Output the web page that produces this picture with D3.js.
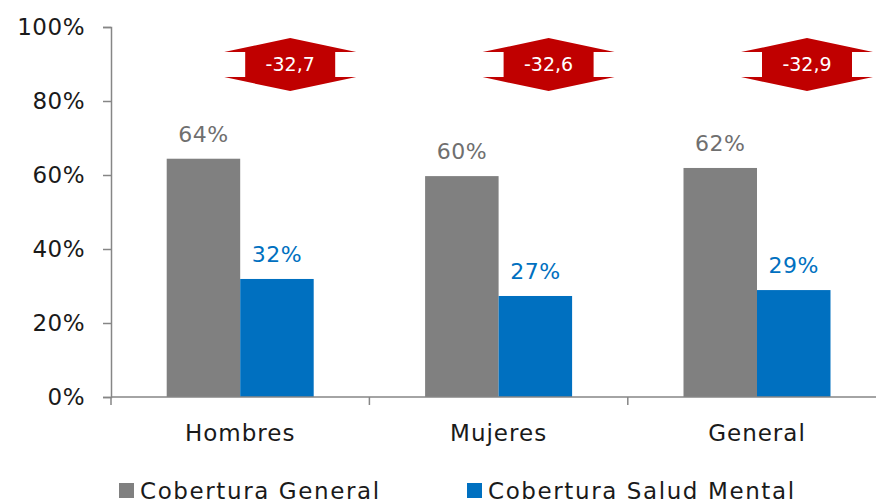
<!DOCTYPE html>
<meta charset="utf-8">
<script src="https://d3js.org/d3.v7.min.js"></script>
<style>
  body { margin: 0; background: #fff; }
  text { font-family: "DejaVu Sans", sans-serif; }
</style>
<div id="chart"></div>
<script>
  // data
  var categories = ["Hombres", "Mujeres", "General"];
  var seriesNames = ["Cobertura General", "Cobertura Salud Mental"];
  var generalVals = [64.4, 59.7, 61.9];
  var mentalVals = [31.9, 27.3, 28.9];
  var gapVals = [-32.7, -32.6, -32.9];
  var yTicks = [0, 20, 40, 60, 80, 100];

  var colors = ["#808080", "#0070c0"];
  var labelColors = ["#6f6f6f", "#0070c0"];

  var width = 876, height = 502;
  var margin = {top: 27, left: 111, bottom: 105};

  var svg = d3.select("#chart")
    .append("svg")
      .attr("width", width)
      .attr("height", height);

  var x = d3.scaleBand()
    .domain(categories)
    .range([margin.left, margin.left + 3 * 258.4]);

  var y = d3.scaleLinear()
    .domain([0, 100])
    .range([height - margin.bottom, margin.top]);

  var barW = 73.5;
  var series = [generalVals, mentalVals];

  // bars
  series.forEach(function(vals, s) {
    svg.append("g")
      .selectAll("rect")
      .data(vals)
      .enter().append("rect")
        .attr("x", function(d, i) { return x(categories[i]) + x.bandwidth() / 2 - barW + s * barW; })
        .attr("y", function(d) { return y(d); })
        .attr("width", barW)
        .attr("height", function(d) { return y(0) - y(d); })
        .attr("fill", colors[s]);

    svg.append("g")
      .selectAll("text")
      .data(vals)
      .enter().append("text")
        .attr("x", function(d, i) { return x(categories[i]) + x.bandwidth() / 2 - barW / 2 + s * barW; })
        .attr("y", function(d) { return y(d) - 17; })
        .attr("text-anchor", "middle")
        .attr("fill", labelColors[s])
        .style("font-size", "22px")
        .style("letter-spacing", "0.5px")
        .text(function(d) { return Math.round(d) + "%"; });
  });

  // y axis
  var yAxis = svg.append("g")
    .attr("transform", "translate(" + margin.left + ",0)")
    .call(d3.axisLeft(y).tickValues(yTicks).tickSize(8).tickPadding(18)
      .tickFormat(function(d) { return d + "%"; }));
  yAxis.select(".domain").attr("stroke", "#868686").attr("stroke-width", 1.5);
  yAxis.selectAll(".tick line").attr("stroke", "#868686").attr("stroke-width", 1.5);
  yAxis.selectAll(".tick text")
    .attr("fill", "#1a1a1a")
    .style("font-size", "23px")
    .style("font-family", "DejaVu Sans")
    .style("letter-spacing", "0.5px");

  // x axis
  var xg = svg.append("g");
  xg.append("line")
    .attr("x1", margin.left).attr("x2", x.range()[1])
    .attr("y1", y(0)).attr("y2", y(0))
    .attr("stroke", "#868686").attr("stroke-width", 1.5);
  xg.selectAll(".xt")
    .data(categories)
    .enter().append("line")
      .attr("x1", function(d) { return x(d); })
      .attr("x2", function(d) { return x(d); })
      .attr("y1", y(0)).attr("y2", y(0) + 8)
      .attr("stroke", "#868686").attr("stroke-width", 1.5);
  xg.selectAll("text")
    .data(categories)
    .enter().append("text")
      .attr("x", function(d) { return x(d) + x.bandwidth() / 2; })
      .attr("y", y(0) + 44)
      .attr("text-anchor", "middle")
      .attr("fill", "#1a1a1a")
      .style("font-size", "23px")
      .style("letter-spacing", "1px")
      .text(function(d) { return d; });

  // difference arrows
  var arrowOffset = 50;
  function arrowPath(cx, top) {
    var pts = [[0, 0], [66, 14], [45, 14], [45, 39], [66, 39], [0, 53],
               [-66, 39], [-45, 39], [-45, 14], [-66, 14]];
    return "M" + pts.map(function(p) { return (cx + p[0]) + "," + (top + p[1]); }).join("L") + "Z";
  }
  var arrows = svg.append("g")
    .selectAll("g")
    .data(gapVals)
    .enter().append("g");
  arrows.append("path")
    .attr("d", function(d, i) { return arrowPath(x(categories[i]) + x.bandwidth() / 2 + arrowOffset, y(97)); })
    .attr("fill", "#c00000");
  arrows.append("text")
    .attr("x", function(d, i) { return x(categories[i]) + x.bandwidth() / 2 + arrowOffset; })
    .attr("y", y(97) + 33)
    .attr("text-anchor", "middle")
    .attr("fill", "#fff")
    .style("font-size", "19px")
    .text(function(d) { return String(d).replace(".", ","); });

  // legend
  var legendX = [119, 467];
  var legend = svg.append("g")
    .selectAll("g")
    .data(seriesNames)
    .enter().append("g")
      .attr("transform", function(d, i) { return "translate(" + legendX[i] + ",483)"; });
  legend.append("rect")
    .attr("width", 15).attr("height", 15)
    .attr("fill", function(d, i) { return colors[i]; });
  legend.append("text")
    .attr("x", 21)
    .attr("y", 16)
    .attr("fill", "#1a1a1a")
    .style("font-size", "23px")
    .style("letter-spacing", "1.6px")
    .text(function(d) { return d; });
</script>
